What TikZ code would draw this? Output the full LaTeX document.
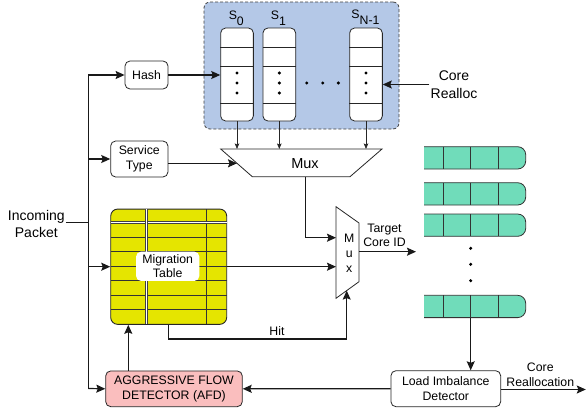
\documentclass[tikz,border=0pt]{standalone}
\usepackage{fontspec}
\setmainfont{Liberation Sans}
\usepackage{tikz}
\usetikzlibrary{positioning}
\usetikzlibrary{arrows.meta}
\usetikzlibrary{calc}

\definecolor{poolblue}{RGB}{180,200,231}
\definecolor{tblyellow}{RGB}{229,229,0}
\definecolor{qgreen}{RGB}{112,220,186}
\definecolor{afdpink}{RGB}{250,190,190}

\newcommand{\lblfont}{\fontsize{12.3}{14.6}\selectfont}
\newcommand{\bigfont}{\fontsize{14}{17.5}\selectfont}

\begin{document}
\begin{tikzpicture}[
  x=1pt, y=-1pt,
  box/.style={
    rectangle,
    rounded corners=5pt,
    draw=black!85,
    fill=white,
    line width=0.8pt,
    inner sep=1pt,
    align=center,
    font=\lblfont
  },
  col/.style={
    rectangle,
    rounded corners=5pt,
    draw=black!85,
    fill=white,
    line width=0.8pt,
    minimum width=32.7pt,
    minimum height=93pt,
    inner sep=0pt
  },
  pool/.style={
    rectangle,
    rounded corners=6pt,
    draw=black!75,
    dash pattern=on 3pt off 2pt,
    fill=poolblue,
    line width=0.8pt
  },
  txt/.style={align=center, inner sep=1pt, font=\lblfont},
  bigtxt/.style={align=center, inner sep=1pt, font=\bigfont},
  arr/.style={-{Stealth[length=9pt,width=8pt,inset=1.5pt]}, line width=1.2pt, black!90},
  wire/.style={line width=1.2pt, black!90},
  smallarr/.style={-{Stealth[length=5.5pt,width=4.5pt,inset=1pt]}, line width=0.8pt, black!85},
  tblline/.style={line width=0.9pt, black!80},
  muxshape/.style={draw=black!85, fill=white, line width=0.8pt}
]
\useasboundingbox (0,0) rectangle (586,415);

% ---- core queues S_0 .. S_{N-1} ----
\node[pool, minimum width=195pt, minimum height=127pt] (cores) at (301.5,65.5) {};

\node[col] (s0) at (237,74.5) {};
\node[col] (s1) at (279.3,74.5) {};
\node[col] (sn) at (366,74.5) {};

\foreach \c in {s0,s1,sn} {
  \draw[line width=0.8pt, black!85] (\c.west |- 0,47) -- (\c.east |- 0,47);
  \draw[line width=0.8pt, black!85] (\c.west |- 0,66) -- (\c.east |- 0,66);
  \draw[line width=0.8pt, black!85] (\c.west |- 0,103) -- (\c.east |- 0,103);
  \fill (\c.center |- 0,73) circle (1.7pt);
  \fill (\c.center |- 0,83) circle (1.7pt);
  \fill (\c.center |- 0,93) circle (1.7pt);
}
\fill (306.7,83) circle (1.7pt);
\fill (322.7,83) circle (1.7pt);
\fill (338.3,83) circle (1.7pt);

\node[txt, anchor=base] (l0) at (236.3,19) {S\raisebox{-6pt}{0}};
\node[txt, anchor=base] (l1) at (278.4,19) {S\raisebox{-6pt}{1}};
\node[txt, anchor=base] (ln) at (365.5,18.5) {S\raisebox{-6pt}{N-1}};

\node[bigtxt] (realloc) at (454,84.5) {Core\\Realloc};
\draw[arr] (realloc.west) -- (realloc.west -| sn.east);

% ---- input side ----
\node[bigtxt] (inc) at (36.3,224) {Incoming\\Packet};
\node[box, minimum width=43pt, minimum height=28pt] (hash) at (146.5,75) {Hash};
\node[box, minimum width=57.3pt, minimum height=36pt] (svc) at (139.3,159) {Service\\Type};

\coordinate (busTop) at (88.3,75);
\coordinate (busBot) at (88.3,388.5);
\draw[wire] (busTop) -- (busBot);
\draw[wire] (inc.east |- 0,222.7) -- (busTop |- 0,222.7);
\draw[arr] (busTop) -- (hash);
\draw[arr] (busTop |- svc) -- (svc);
\draw[arr] (hash) -- (hash -| s0.west);

% ---- wide mux ----
\coordinate (mA) at (220.7,149);
\coordinate (mB) at (382,149);
\coordinate (mC) at (350,176.7);
\coordinate (mD) at (252.3,176.7);
\draw[muxshape] (mA) -- (mB) -- (mC) -- (mD) -- cycle;
\node[font=\fontsize{14.5}{16}\selectfont, inner sep=0pt] (mux) at (305,164) {Mux};

\draw[smallarr] (s0.south) -- (s0.south |- mA);
\draw[smallarr] (s1.south) -- (s1.south |- mA);
\draw[smallarr] (sn.south) -- (sn.south |- mA);

\coordinate (mIn) at (237,163.3);
\draw[arr] (svc.east |- mIn) -- (mIn);

% ---- migration table ----
\node[rectangle, rounded corners=7pt, draw=black!85, line width=0.9pt, fill=tblyellow,
  minimum width=116pt, minimum height=115.3pt] (mt) at (168.7,266.7) {};
\draw[tblline] (110.7,237.3) -- (226.7,237.3);
\draw[tblline] (110.7,251.7) -- (226.7,251.7);
\draw[tblline] (110.7,266) -- (226.7,266);
\draw[tblline] (110.7,280.7) -- (226.7,280.7);
\draw[tblline] (110.7,295) -- (226.7,295);
\draw[tblline] (110.7,309.3) -- (226.7,309.3);
\draw[tblline] (206.7,209) -- (206.7,324.3);
\draw[line width=2.8pt, black!75] (110.7,222.5) -- (226.7,222.5);
\draw[line width=1.1pt, white] (110.7,222.5) -- (226.7,222.5);
\draw[line width=2.8pt, black!75] (146.7,209.4) -- (146.7,323.9);
\draw[line width=1.1pt, white] (146.7,209.4) -- (146.7,323.9);
\node[rectangle, rounded corners=5pt, fill=white, minimum width=63.3pt, minimum height=29.3pt,
  inner sep=1pt, align=center, font=\lblfont] (mtl) at (167.7,266.3) {Migration\\Table};

\draw[arr] (busTop |- mt) -- (mt.west);

% ---- small mux ----
\draw[muxshape] (336,206.7) -- (359,223) -- (359,281.7) -- (336,298.3) -- cycle;
\node[txt, font=\fontsize{12.3}{15}\selectfont, inner sep=0pt] (smux) at (349.3,253) {M\\u\\x};

\coordinate (mOut) at (305.7,176.7);
\coordinate (sIn1) at (336,237.7);
\coordinate (sIn2) at (336,266.7);
\coordinate (hitEnd) at (346.7,290.6);
\coordinate (sOut) at (359,251.7);
\coordinate (tgt) at (416,251.7);

\draw[arr] (mOut) |- (sIn1);
\draw[arr] (mt.east |- sIn2) -- (sIn2);
\draw[arr] (mt.south) |- (hitEnd |- 0,339) -- (hitEnd);
\node[txt] (hit) at (277,331) {Hit};
\draw[arr] (sOut) -- (tgt);
\node[txt] (target) at (384.5,235.5) {Target\\Core ID};

% ---- core queues ----
\begin{scope}
  \clip (424,130) rectangle (586,330);
  \foreach \qy in {146.7,182.7,214,295.3} {
    \draw[fill=qgreen, draw=black!80, line width=0.8pt, rounded corners=8pt]
      (410,\qy) rectangle (525.7,\qy+22.3);
    \draw[line width=0.8pt, black!80] (443.3,\qy) -- (443.3,\qy+22.3);
    \draw[line width=0.8pt, black!80] (470.7,\qy) -- (470.7,\qy+22.3);
    \draw[line width=0.8pt, black!80] (498.3,\qy) -- (498.3,\qy+22.3);
  }
\end{scope}
\fill (470.7,248.3) circle (1.7pt);
\fill (470.7,264.3) circle (1.7pt);
\fill (470.7,280.7) circle (1.7pt);
\coordinate (qLast) at (470.7,317.6);

% ---- detectors ----
\node[box, fill=afdpink, minimum width=136.6pt, minimum height=35.7pt] (afd) at (174,388.8)
  {AGGRESSIVE FLOW\\DETECTOR (AFD)};
\node[box, minimum width=109.7pt, minimum height=36pt] (lid) at (445.8,388.7)
  {Load Imbalance\\Detector};

\draw[arr] (busBot) -- (afd.west);
\draw[arr] (afd.north -| 128.3,0) -- (mt.south -| 128.3,0);
\draw[arr] (qLast) -- (qLast |- lid.north);
\draw[arr] (lid.west) -- (afd.east);
\coordinate (out) at (585.8,389.5);
\draw[arr] (lid.east |- out) -- (out);
\node[txt] (coreout) at (540.3,375) {Core\\Reallocation};

\end{tikzpicture}
\end{document}
